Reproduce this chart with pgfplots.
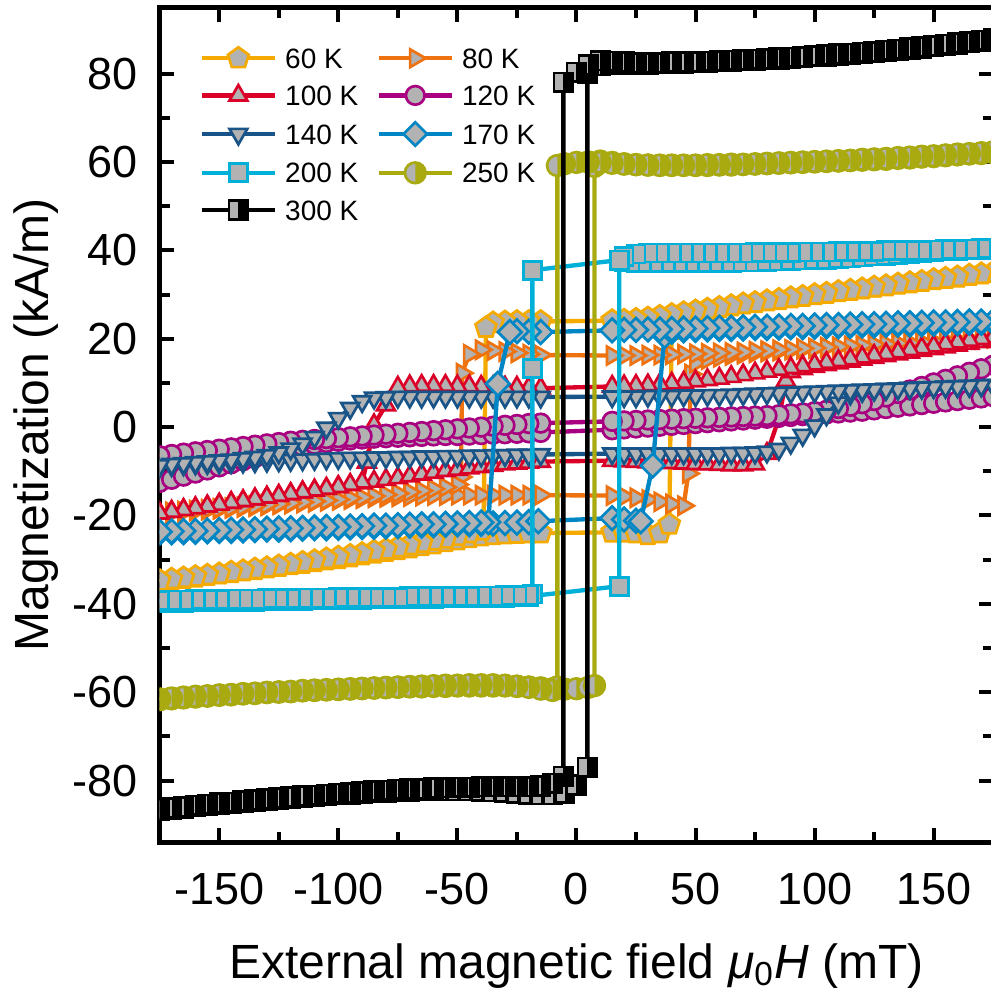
\documentclass[border=0pt]{standalone}
\usepackage{fontspec}
\setmainfont{Liberation Sans}
\usepackage{pgfplots}
\pgfplotsset{compat=1.18}
\usetikzlibrary{plotmarks}
\definecolor{mgray}{rgb}{0.7,0.7,0.7}
\definecolor{c60}{HTML}{F5AA00}
\definecolor{c80}{HTML}{EE7210}
\definecolor{c100}{HTML}{DA0028}
\definecolor{c120}{HTML}{A80080}
\definecolor{c140}{HTML}{185488}
\definecolor{c170}{HTML}{0086C4}
\definecolor{c200}{HTML}{00B0D8}
\definecolor{c250}{HTML}{A8AA10}
\definecolor{c300}{HTML}{000000}
\pgfdeclareplotmark{halfsquare}{%
  \pgfpathrectangle{\pgfqpoint{-\pgfplotmarksize}{-\pgfplotmarksize}}{\pgfqpoint{2\pgfplotmarksize}{2\pgfplotmarksize}}%
  \pgfusepathqfill
  \begin{pgfscope}\pgfsetfillcolor{mgray}%
  \pgfpathrectangle{\pgfqpoint{-\pgfplotmarksize}{-\pgfplotmarksize}}{\pgfqpoint{\pgfplotmarksize}{2\pgfplotmarksize}}%
  \pgfusepathqfill\end{pgfscope}%
  \pgfpathrectangle{\pgfqpoint{-\pgfplotmarksize}{-\pgfplotmarksize}}{\pgfqpoint{2\pgfplotmarksize}{2\pgfplotmarksize}}%
  \pgfusepathqstroke}
\pgfdeclareplotmark{halfcircle}{%
  \pgfpathcircle{\pgfpointorigin}{\pgfplotmarksize}\pgfusepathqfill
  \begin{pgfscope}\pgfsetfillcolor{mgray}%
  \pgfpathmoveto{\pgfqpoint{0pt}{\pgfplotmarksize}}%
  \pgfpatharc{90}{270}{\pgfplotmarksize}\pgfpathclose
  \pgfusepathqfill\end{pgfscope}%
  \pgfpathcircle{\pgfpointorigin}{\pgfplotmarksize}\pgfusepathqstroke}
\pgfplotsset{
  s60/.style={line width=1.3pt, color=c60, mark=pentagon*, mark size=3.3pt, mark options={solid, draw=c60, fill=mgray, line width=0.8pt}},
  s80/.style={line width=1.3pt, color=c80, mark=triangle*, mark size=3.1pt, mark options={solid, rotate=-90, draw=c80, fill=mgray, line width=0.8pt}},
  s100/.style={line width=1.3pt, color=c100, mark=triangle*, mark size=3.1pt, mark options={solid, draw=c100, fill=mgray, line width=0.8pt}},
  s120/.style={line width=1.3pt, color=c120, mark=*, mark size=2.8pt, mark options={solid, draw=c120, fill=mgray, line width=0.8pt}},
  s140/.style={line width=1.3pt, color=c140, mark=triangle*, mark size=3.1pt, mark options={solid, rotate=180, draw=c140, fill=mgray, line width=0.8pt}},
  s170/.style={line width=1.3pt, color=c170, mark=square*, mark size=2.5pt, mark options={solid, rotate=45, draw=c170, fill=mgray, line width=0.8pt}},
  s200/.style={line width=1.3pt, color=c200, mark=square*, mark size=2.7pt, mark options={solid, draw=c200, fill=mgray, line width=0.8pt}},
  s250/.style={line width=1.3pt, color=c250, mark=halfcircle, mark size=3.1pt, mark options={solid, draw=c250, fill=c250, line width=0.8pt}},
  s300/.style={line width=1.3pt, color=c300, mark=halfsquare, mark size=2.8pt, mark options={solid, draw=black, fill=black, line width=0.8pt}},
}
\begin{document}
\begin{tikzpicture}
\begin{axis}[
  scale only axis, width=250pt, height=250.5pt,
  xmin=-175, xmax=175, ymin=-94, ymax=95,
  xtick={-150,-100,-50,0,50,100,150}, xticklabels={-150,-100,-50,0,50,100,150},
  ytick={-80,-60,-40,-20,0,20,40,60,80}, yticklabels={-80,-60,-40,-20,0,20,40,60,80},
  minor x tick num=1, minor y tick num=1,
  tick align=inside,
  major tick length=4.3pt, minor tick length=3.2pt,
  every tick/.style={black, line width=1.2pt},
  axis line style={line width=1.5pt},
  ticklabel style={font=\fontsize{13.5}{16}\selectfont},
  yticklabel style={inner sep=0pt, xshift=-6.3pt},
  xticklabel style={inner sep=0pt, yshift=-9pt},
  xlabel={External magnetic field {\itshape μ}\textsubscript{0}{\itshape H} (mT)},
  ylabel={Magnetization (kA/m)},
  label style={font=\fontsize{14.4}{17}\selectfont},
  xlabel style={at={(axis description cs:0.5,-0.1629)}, anchor=base},
  ylabel style={at={(axis description cs:-0.1332,0.5)}, anchor=base},
  clip marker paths=true,
  legend columns=2,
  legend cell align=left,
  legend style={draw=none, fill=none, at={(rel axis cs:0.035,0.961)}, anchor=north west,
    font=\fontsize{8.4}{10}\selectfont,
    nodes={inner xsep=2.4pt, inner ysep=0pt, text height=6.1pt, text depth=0pt},
    row sep=5.0pt, /tikz/every even column/.append style={column sep=3pt}},
  legend image code/.code={\draw[mark repeat=2,mark phase=2] plot coordinates {(0pt,0pt) (11pt,0pt) (22pt,0pt)};},
]
\coordinate (bl) at (rel axis cs:0,0);
\coordinate (tr) at (rel axis cs:1,1);
% 60 K
\addplot[s60, forget plot] coordinates {(-175,-34.9)(-170,-34.6)(-165,-34.3)(-160,-34.0)(-155,-33.6)(-150,-33.3)(-145,-33.0)(-140,-32.6)(-135,-32.3)(-130,-31.9)(-125,-31.6)(-120,-31.2)(-115,-30.9)(-110,-30.5)(-105,-30.1)(-100,-29.8)(-95,-29.4)(-90,-29.0)(-85,-28.6)(-80,-28.2)(-75,-27.8)(-70,-27.4)(-65,-26.9)(-60,-26.5)(-55,-26.0)(-50,-25.6)(-45,-25.1)(-40,-24.7)(-35,-24.4)(-30,-24.2)(-25,-24.1)(-20,-24.0)(-15,-24.0)(15,-23.8)(20,-23.8)(25,-24.0)(30,-24.4)(35,-24.0)(39,-22.0)(40,22.0)(42,24.8)(45,25.6)(50,26.2)(55,26.6)(60,27.0)(65,27.4)(70,27.8)(75,28.1)(80,28.5)(85,28.8)(90,29.2)(95,29.5)(100,29.9)(105,30.2)(110,30.6)(115,30.9)(120,31.2)(125,31.6)(130,31.9)(135,32.3)(140,32.6)(145,32.9)(150,33.3)(155,33.6)(160,33.9)(165,34.3)(170,34.6)(175,34.9)};
\addplot[s60] coordinates {(175,35.0)(170,34.7)(165,34.4)(160,34.0)(155,33.7)(150,33.4)(145,33.0)(140,32.7)(135,32.4)(130,32.0)(125,31.7)(120,31.3)(115,31.0)(110,30.7)(105,30.3)(100,30.0)(95,29.6)(90,29.3)(85,28.9)(80,28.6)(75,28.2)(70,27.9)(65,27.5)(60,27.1)(55,26.7)(50,26.3)(45,25.9)(40,25.5)(35,25.1)(30,24.7)(25,24.4)(20,24.2)(15,24.1)(-15,23.9)(-20,23.9)(-25,23.9)(-30,23.8)(-35,23.6)(-38,22.5)(-39,-22.8)(-40,-23.4)(-45,-24.0)(-50,-24.6)(-55,-25.2)(-60,-25.7)(-65,-26.2)(-70,-26.7)(-75,-27.2)(-80,-27.7)(-85,-28.1)(-90,-28.6)(-95,-29.0)(-100,-29.4)(-105,-29.8)(-110,-30.2)(-115,-30.6)(-120,-31.0)(-125,-31.4)(-130,-31.8)(-135,-32.1)(-140,-32.5)(-145,-32.8)(-150,-33.2)(-155,-33.5)(-160,-33.8)(-165,-34.1)(-170,-34.4)(-175,-34.7)};
\addlegendentry{60 K}
% 80 K
\addplot[s80, forget plot] coordinates {(-175,-19.6)(-170,-19.4)(-165,-19.2)(-160,-19.0)(-155,-18.8)(-150,-18.6)(-145,-18.4)(-140,-18.2)(-135,-18.0)(-130,-17.8)(-125,-17.6)(-120,-17.4)(-115,-17.2)(-110,-17.0)(-105,-16.8)(-100,-16.6)(-95,-16.4)(-90,-16.2)(-85,-16.0)(-80,-15.9)(-75,-15.8)(-70,-15.7)(-65,-15.6)(-60,-15.5)(-55,-15.5)(-50,-15.4)(-45,-15.4)(-40,-15.4)(-35,-15.4)(-30,-15.4)(-25,-15.4)(-20,-15.4)(-15,-15.4)(15,-15.5)(20,-15.7)(25,-16.0)(30,-16.4)(35,-16.9)(40,-17.4)(45,-17.8)(47,-10.5)(48,12.0)(50,14.5)(55,15.3)(60,15.8)(65,16.2)(70,16.5)(75,16.8)(80,17.0)(85,17.2)(90,17.4)(95,17.6)(100,17.8)(105,18.0)(110,18.1)(115,18.3)(120,18.4)(125,18.6)(130,18.7)(135,18.9)(140,19.0)(145,19.2)(150,19.3)(155,19.5)(160,19.6)(165,19.8)(170,19.9)(175,20.1)};
\addplot[s80] coordinates {(175,20.2)(170,20.0)(165,19.9)(160,19.7)(155,19.6)(150,19.4)(145,19.3)(140,19.1)(135,19.0)(130,18.8)(125,18.7)(120,18.5)(115,18.4)(110,18.2)(105,18.1)(100,17.9)(95,17.8)(90,17.6)(85,17.5)(80,17.3)(75,17.2)(70,17.0)(65,16.9)(60,16.8)(55,16.7)(50,16.6)(45,16.5)(40,16.4)(35,16.3)(30,16.3)(25,16.2)(20,16.2)(15,16.2)(-15,16.3)(-20,16.5)(-25,16.8)(-30,17.1)(-35,17.3)(-40,17.5)(-45,16.5)(-48,12.2)(-48.5,-11.3)(-50,-13.0)(-55,-13.6)(-60,-14.0)(-65,-14.4)(-70,-14.7)(-75,-15.0)(-80,-15.3)(-85,-15.6)(-90,-15.9)(-95,-16.1)(-100,-16.4)(-105,-16.6)(-110,-16.8)(-115,-17.0)(-120,-17.2)(-125,-17.4)(-130,-17.6)(-135,-17.8)(-140,-18.0)(-145,-18.2)(-150,-18.4)(-155,-18.6)(-160,-18.8)(-165,-19.0)(-170,-19.2)(-175,-19.4)};
\addlegendentry{80 K}
% 100 K
\addplot[s100, forget plot] coordinates {(-175,-19.5)(-170,-19.1)(-165,-18.7)(-160,-18.3)(-155,-17.9)(-150,-17.5)(-145,-17.1)(-140,-16.7)(-135,-16.3)(-130,-15.9)(-125,-15.5)(-120,-15.1)(-115,-14.7)(-110,-14.3)(-105,-13.9)(-100,-13.5)(-95,-13.1)(-90,-12.7)(-85,-12.3)(-80,-11.9)(-75,-11.5)(-70,-11.1)(-65,-10.7)(-60,-10.3)(-55,-9.9)(-50,-9.6)(-45,-9.3)(-40,-9.0)(-35,-8.7)(-30,-8.4)(-25,-8.2)(-20,-8.0)(-15,-7.8)(15,-7.6)(20,-7.7)(25,-7.8)(30,-7.9)(35,-8.0)(40,-8.1)(45,-8.2)(50,-8.3)(55,-8.4)(60,-8.5)(65,-8.6)(70,-8.6)(75,-8.4)(80,-6.0)(85,2.0)(88,10.5)(90,12.5)(95,13.2)(100,13.7)(105,14.1)(110,14.5)(115,14.9)(120,15.3)(125,15.7)(130,16.1)(135,16.5)(140,16.9)(145,17.3)(150,17.7)(155,18.1)(160,18.5)(165,18.9)(170,19.3)(175,19.7)};
\addplot[s100] coordinates {(175,20.4)(170,20.0)(165,19.6)(160,19.2)(155,18.8)(150,18.3)(145,17.9)(140,17.5)(135,17.0)(130,16.6)(125,16.2)(120,15.8)(115,15.4)(110,15.0)(105,14.6)(100,14.2)(95,13.8)(90,13.4)(85,13.0)(80,12.6)(75,12.2)(70,11.8)(65,11.4)(60,11.0)(55,10.7)(50,10.4)(45,10.1)(40,9.9)(35,9.7)(30,9.5)(25,9.4)(20,9.3)(15,9.2)(-15,8.8)(-20,8.9)(-25,9.0)(-30,9.0)(-35,9.1)(-40,9.2)(-45,9.3)(-50,9.3)(-55,9.4)(-60,9.4)(-65,9.4)(-70,9.3)(-75,9.0)(-80,5.0)(-85,0.5)(-88,-8.0)(-90,-12.5)(-95,-13.0)(-100,-13.5)(-105,-13.9)(-110,-14.3)(-115,-14.7)(-120,-15.1)(-125,-15.5)(-130,-15.9)(-135,-16.3)(-140,-16.7)(-145,-17.1)(-150,-17.5)(-155,-17.9)(-160,-18.3)(-165,-18.7)(-170,-19.1)(-175,-19.5)};
\addlegendentry{100 K}
% 120 K
\addplot[s120, forget plot] coordinates {(-175,-12.5)(-170,-11.8)(-165,-11.1)(-160,-10.4)(-155,-9.7)(-150,-9.0)(-145,-8.3)(-140,-7.6)(-135,-6.9)(-130,-6.2)(-125,-5.5)(-120,-4.9)(-115,-4.4)(-110,-3.9)(-105,-3.5)(-100,-3.2)(-95,-2.9)(-90,-2.7)(-85,-2.5)(-80,-2.4)(-75,-2.3)(-70,-2.2)(-65,-2.1)(-60,-2.0)(-55,-1.9)(-50,-1.9)(-45,-1.8)(-40,-1.7)(-35,-1.6)(-30,-1.5)(-25,-1.4)(-20,-1.3)(-15,-1.2)(15,-0.6)(20,-0.4)(25,-0.2)(30,0.0)(35,0.2)(40,0.4)(45,0.6)(50,0.8)(55,1.0)(60,1.2)(65,1.4)(70,1.6)(75,1.8)(80,2.0)(85,2.2)(90,2.4)(95,2.6)(100,2.8)(105,3.0)(110,3.2)(115,3.4)(120,3.6)(125,3.9)(130,4.2)(135,4.5)(140,4.8)(145,5.1)(150,5.4)(155,5.7)(160,6.0)(165,6.3)(170,6.6)(175,6.9)};
\addplot[s120] coordinates {(175,14.0)(170,13.2)(165,12.4)(160,11.6)(155,10.8)(150,10.0)(145,9.2)(140,8.4)(135,7.6)(130,6.8)(125,6.0)(120,5.3)(115,4.7)(110,4.2)(105,3.8)(100,3.5)(95,3.2)(90,3.0)(85,2.8)(80,2.6)(75,2.5)(70,2.4)(65,2.3)(60,2.2)(55,2.1)(50,2.0)(45,1.9)(40,1.8)(35,1.7)(30,1.6)(25,1.5)(20,1.4)(15,1.3)(-15,0.9)(-20,0.8)(-25,0.6)(-30,0.4)(-35,0.2)(-40,0.0)(-45,-0.2)(-50,-0.4)(-55,-0.6)(-60,-0.8)(-65,-1.0)(-70,-1.2)(-75,-1.4)(-80,-1.6)(-85,-1.8)(-90,-2.0)(-95,-2.2)(-100,-2.4)(-105,-2.6)(-110,-2.8)(-115,-3.0)(-120,-3.2)(-125,-3.5)(-130,-3.8)(-135,-4.1)(-140,-4.4)(-145,-4.7)(-150,-5.0)(-155,-5.3)(-160,-5.6)(-165,-5.9)(-170,-6.2)(-175,-6.5)};
\addlegendentry{120 K}
% 140 K
\addplot[s140, forget plot] coordinates {(-175,-8.9)(-170,-8.7)(-165,-8.5)(-160,-8.3)(-155,-8.2)(-150,-8.1)(-145,-8.0)(-140,-7.9)(-135,-7.8)(-130,-7.7)(-125,-7.6)(-120,-7.5)(-115,-7.4)(-110,-7.3)(-105,-7.2)(-100,-7.1)(-95,-7.0)(-90,-7.0)(-85,-6.9)(-80,-6.9)(-75,-6.8)(-70,-6.8)(-65,-6.7)(-60,-6.7)(-55,-6.6)(-50,-6.6)(-45,-6.5)(-40,-6.5)(-35,-6.4)(-30,-6.4)(-25,-6.3)(-20,-6.3)(-15,-6.2)(15,-6.0)(20,-6.0)(25,-6.0)(30,-6.0)(35,-6.0)(40,-6.0)(45,-6.0)(50,-6.0)(55,-6.0)(60,-6.0)(65,-5.9)(70,-5.9)(75,-5.8)(80,-5.6)(85,-5.0)(90,-3.6)(95,-1.8)(100,0.3)(105,2.8)(110,5.5)(115,7.5)(120,8.1)(125,8.4)(130,8.6)(135,8.7)(140,8.8)(145,8.9)(150,9.0)(155,9.1)(160,9.2)(165,9.3)(170,9.4)(175,9.5)};
\addplot[s140] coordinates {(175,9.5)(170,9.4)(165,9.3)(160,9.2)(155,9.1)(150,9.0)(145,8.9)(140,8.8)(135,8.7)(130,8.6)(125,8.5)(120,8.4)(115,8.3)(110,8.2)(105,8.1)(100,8.0)(95,7.9)(90,7.8)(85,7.7)(80,7.6)(75,7.5)(70,7.4)(65,7.3)(60,7.2)(55,7.2)(50,7.1)(45,7.1)(40,7.0)(35,7.0)(30,7.0)(25,6.9)(20,6.9)(15,6.9)(-15,6.8)(-20,6.8)(-25,6.8)(-30,6.8)(-35,6.8)(-40,6.8)(-45,6.8)(-50,6.8)(-55,6.8)(-60,6.8)(-65,6.8)(-70,6.8)(-75,6.8)(-80,6.7)(-85,6.6)(-90,5.8)(-95,4.3)(-100,2.0)(-105,-0.2)(-110,-2.3)(-115,-3.8)(-120,-4.9)(-125,-5.8)(-130,-6.4)(-135,-6.8)(-140,-7.1)(-145,-7.4)(-150,-7.6)(-155,-7.8)(-160,-8.0)(-165,-8.2)(-170,-8.4)(-175,-8.7)};
\addlegendentry{140 K}
% 170 K
\addplot[s170, forget plot] coordinates {(-175,-23.9)(-170,-23.8)(-165,-23.8)(-160,-23.7)(-155,-23.6)(-150,-23.5)(-145,-23.5)(-140,-23.4)(-135,-23.3)(-130,-23.2)(-125,-23.2)(-120,-23.1)(-115,-23.0)(-110,-22.9)(-105,-22.9)(-100,-22.8)(-95,-22.7)(-90,-22.6)(-85,-22.6)(-80,-22.5)(-75,-22.4)(-70,-22.3)(-65,-22.3)(-60,-22.2)(-55,-22.1)(-50,-22.0)(-45,-22.0)(-40,-21.9)(-35,-21.8)(-30,-21.7)(-25,-21.6)(-20,-21.5)(-16,-21.3)(15,-20.6)(20,-20.9)(25,-21.2)(27,-21.3)(32,-8.7)(37,20.6)(40,21.6)(45,21.9)(50,22.0)(55,22.1)(60,22.2)(65,22.2)(70,22.3)(75,22.4)(80,22.4)(85,22.5)(90,22.6)(95,22.6)(100,22.7)(105,22.8)(110,22.8)(115,22.9)(120,23.0)(125,23.0)(130,23.1)(135,23.2)(140,23.2)(145,23.3)(150,23.4)(155,23.4)(160,23.5)(165,23.6)(170,23.6)(175,23.7)};
\addplot[s170] coordinates {(175,24.0)(170,23.9)(165,23.9)(160,23.8)(155,23.7)(150,23.7)(145,23.6)(140,23.5)(135,23.5)(130,23.4)(125,23.3)(120,23.3)(115,23.2)(110,23.1)(105,23.1)(100,23.0)(95,22.9)(90,22.9)(85,22.8)(80,22.7)(75,22.7)(70,22.6)(65,22.5)(60,22.5)(55,22.4)(50,22.3)(45,22.3)(40,22.2)(35,22.1)(30,22.1)(25,22.0)(20,22.0)(15,21.9)(-15,21.5)(-20,21.6)(-25,21.7)(-28,21.5)(-33,9.8)(-37,-21.5)(-40,-21.6)(-45,-21.7)(-50,-21.8)(-55,-21.9)(-60,-22.0)(-65,-22.0)(-70,-22.1)(-75,-22.2)(-80,-22.3)(-85,-22.3)(-90,-22.4)(-95,-22.5)(-100,-22.6)(-105,-22.6)(-110,-22.7)(-115,-22.8)(-120,-22.9)(-125,-22.9)(-130,-23.0)(-135,-23.1)(-140,-23.2)(-145,-23.2)(-150,-23.3)(-155,-23.4)(-160,-23.5)(-165,-23.5)(-170,-23.6)(-175,-23.7)};
\addlegendentry{170 K}
% 200 K
\addplot[s200, forget plot] coordinates {(-175,-39.8)(-170,-39.7)(-165,-39.7)(-160,-39.6)(-155,-39.6)(-150,-39.5)(-145,-39.5)(-140,-39.4)(-135,-39.4)(-130,-39.3)(-125,-39.3)(-120,-39.2)(-115,-39.2)(-110,-39.1)(-105,-39.1)(-100,-39.0)(-95,-39.0)(-90,-39.0)(-85,-38.9)(-80,-38.9)(-75,-38.9)(-70,-38.8)(-65,-38.8)(-60,-38.8)(-55,-38.7)(-50,-38.7)(-45,-38.7)(-40,-38.6)(-35,-38.6)(-30,-38.5)(-25,-38.4)(-20,-38.3)(18,-36.0)(18,37.7)(20,37.4)(25,37.3)(30,37.2)(35,37.2)(40,37.2)(45,37.2)(50,37.2)(55,37.2)(60,37.3)(65,37.3)(70,37.4)(75,37.4)(80,37.5)(85,37.6)(90,37.7)(95,37.8)(100,37.9)(105,38.0)(110,38.1)(115,38.3)(120,38.5)(125,38.7)(130,38.9)(135,39.1)(140,39.3)(145,39.5)(150,39.7)(155,39.9)(160,40.0)(165,40.1)(170,40.2)(175,40.3)};
\addplot[s200] coordinates {(175,40.5)(170,40.4)(165,40.3)(160,40.2)(155,40.2)(150,40.1)(145,40.0)(140,40.0)(135,39.9)(130,39.9)(125,39.8)(120,39.8)(115,39.7)(110,39.7)(105,39.6)(100,39.6)(95,39.6)(90,39.5)(85,39.5)(80,39.5)(75,39.5)(70,39.4)(65,39.4)(60,39.4)(55,39.4)(50,39.4)(45,39.4)(40,39.4)(35,39.4)(30,39.4)(25,39.2)(20,38.6)(18,37.8)(-18.5,35.5)(-18.5,13.3)(-18.5,-37.8)(-20,-38.0)(-25,-38.1)(-30,-38.1)(-35,-38.2)(-40,-38.2)(-45,-38.3)(-50,-38.3)(-55,-38.3)(-60,-38.4)(-65,-38.4)(-70,-38.4)(-75,-38.5)(-80,-38.5)(-85,-38.5)(-90,-38.6)(-95,-38.6)(-100,-38.6)(-105,-38.7)(-110,-38.7)(-115,-38.7)(-120,-38.8)(-125,-38.8)(-130,-38.8)(-135,-38.9)(-140,-38.9)(-145,-38.9)(-150,-39.0)(-155,-39.0)(-160,-39.0)(-165,-39.1)(-170,-39.1)(-175,-39.2)};
\addlegendentry{200 K}
% 250 K
\addplot[s250, forget plot] coordinates {(-175,-61.7)(-170,-61.5)(-165,-61.3)(-160,-61.1)(-155,-60.9)(-150,-60.7)(-145,-60.6)(-140,-60.4)(-135,-60.3)(-130,-60.1)(-125,-60.0)(-120,-59.9)(-115,-59.7)(-110,-59.6)(-105,-59.5)(-100,-59.4)(-95,-59.3)(-90,-59.2)(-85,-59.1)(-80,-59.0)(-75,-58.9)(-70,-58.8)(-65,-58.8)(-60,-58.7)(-55,-58.7)(-50,-58.6)(-45,-58.6)(-40,-58.6)(-35,-58.6)(-30,-58.6)(-25,-58.7)(-20,-58.8)(-15,-59.0)(-10,-59.2)(-5,-59.3)(0,-59.2)(5,-58.9)(7.6,-58.5)(7.6,59.0)(10,60.2)(15,59.9)(20,59.6)(25,59.4)(30,59.3)(35,59.2)(40,59.2)(45,59.2)(50,59.2)(55,59.2)(60,59.3)(65,59.3)(70,59.4)(75,59.5)(80,59.6)(85,59.7)(90,59.8)(95,59.9)(100,60.0)(105,60.1)(110,60.2)(115,60.3)(120,60.4)(125,60.5)(130,60.6)(135,60.8)(140,60.9)(145,61.1)(150,61.2)(155,61.4)(160,61.6)(165,61.8)(170,61.9)(175,62.1)};
\addplot[s250] coordinates {(175,62.3)(170,62.1)(165,61.9)(160,61.8)(155,61.6)(150,61.4)(145,61.3)(140,61.1)(135,61.0)(130,60.8)(125,60.7)(120,60.6)(115,60.4)(110,60.3)(105,60.2)(100,60.1)(95,60.0)(90,59.9)(85,59.8)(80,59.7)(75,59.6)(70,59.5)(65,59.5)(60,59.4)(55,59.4)(50,59.3)(45,59.3)(40,59.3)(35,59.3)(30,59.3)(25,59.4)(20,59.5)(15,59.7)(10,59.9)(5,60.0)(0,59.9)(-5,59.6)(-8,59.2)(-8,-58.8)(-10,-59.6)(-15,-59.3)(-20,-58.9)(-25,-58.6)(-30,-58.4)(-35,-58.3)(-40,-58.3)(-45,-58.3)(-50,-58.4)(-55,-58.4)(-60,-58.5)(-65,-58.6)(-70,-58.7)(-75,-58.8)(-80,-58.9)(-85,-59.0)(-90,-59.1)(-95,-59.2)(-100,-59.3)(-105,-59.4)(-110,-59.5)(-115,-59.6)(-120,-59.8)(-125,-59.9)(-130,-60.0)(-135,-60.2)(-140,-60.3)(-145,-60.5)(-150,-60.6)(-155,-60.8)(-160,-60.9)(-165,-61.1)(-170,-61.3)(-175,-61.5)};
\addlegendentry{250 K}
% 300 K
\addplot[s300, forget plot] coordinates {(-175,-86.8)(-170,-86.5)(-165,-86.2)(-160,-85.9)(-155,-85.7)(-150,-85.4)(-145,-85.2)(-140,-84.9)(-135,-84.7)(-130,-84.5)(-125,-84.2)(-120,-84.0)(-115,-83.8)(-110,-83.6)(-105,-83.4)(-100,-83.2)(-95,-83.0)(-90,-82.9)(-85,-82.7)(-80,-82.6)(-75,-82.5)(-70,-82.4)(-65,-82.3)(-60,-82.3)(-55,-82.3)(-50,-82.3)(-45,-82.3)(-40,-82.4)(-35,-82.5)(-30,-82.6)(-25,-82.8)(-20,-83.0)(-15,-83.2)(-10,-83.2)(-5,-82.8)(0,-81.0)(4.6,-77.0)(4.6,80.0)(10,81.8)(15,82.2)(20,82.2)(25,82.2)(30,82.2)(35,82.3)(40,82.3)(45,82.4)(50,82.5)(55,82.6)(60,82.7)(65,82.8)(70,82.9)(75,83.0)(80,83.2)(85,83.3)(90,83.5)(95,83.6)(100,83.8)(105,84.0)(110,84.2)(115,84.4)(120,84.6)(125,84.8)(130,85.1)(135,85.3)(140,85.6)(145,85.8)(150,86.1)(155,86.4)(160,86.7)(165,87.0)(170,87.3)(175,87.6)};
\addplot[s300] coordinates {(175,87.8)(170,87.5)(165,87.2)(160,86.9)(155,86.6)(150,86.3)(145,86.0)(140,85.8)(135,85.5)(130,85.3)(125,85.0)(120,84.8)(115,84.6)(110,84.4)(105,84.2)(100,84.0)(95,83.8)(90,83.7)(85,83.5)(80,83.4)(75,83.2)(70,83.1)(65,83.0)(60,82.9)(55,82.8)(50,82.7)(45,82.6)(40,82.6)(35,82.5)(30,82.5)(25,82.5)(20,82.6)(15,82.8)(10,82.9)(5,82.0)(0,80.3)(-5.5,78.0)(-5.5,-79.0)(-10,-80.6)(-15,-81.2)(-20,-81.4)(-25,-81.4)(-30,-81.4)(-35,-81.4)(-40,-81.4)(-45,-81.5)(-50,-81.5)(-55,-81.6)(-60,-81.7)(-65,-81.8)(-70,-81.9)(-75,-82.0)(-80,-82.2)(-85,-82.3)(-90,-82.5)(-95,-82.7)(-100,-82.9)(-105,-83.1)(-110,-83.3)(-115,-83.5)(-120,-83.7)(-125,-83.9)(-130,-84.1)(-135,-84.4)(-140,-84.6)(-145,-84.9)(-150,-85.1)(-155,-85.4)(-160,-85.6)(-165,-85.9)(-170,-86.2)(-175,-86.5)};
\addlegendentry{300 K}
\end{axis}
\pgfresetboundingbox
\path[use as bounding box] ([xshift=-47.9pt,yshift=-48.15pt]bl) rectangle ([xshift=-0.75pt,yshift=2.2pt]tr);
\end{tikzpicture}
\end{document}
